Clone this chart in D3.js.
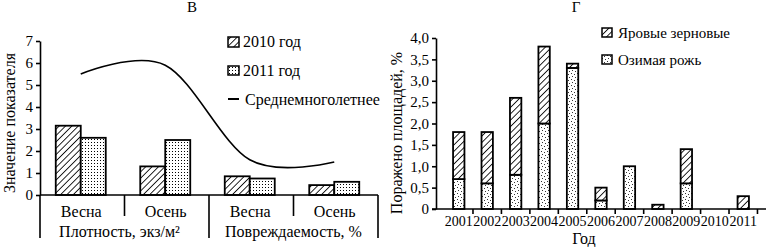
<!DOCTYPE html>
<html>
<head>
<meta charset="utf-8">
<script src="https://cdn.jsdelivr.net/npm/d3@7"></script>
</head>
<body style="margin:0; background:#fff">
<svg id="chart" width="768" height="247"></svg>
<script>
// Chart В: density and damage by season
const seasons = ["Весна", "Осень", "Весна ", "Осень "];
const groups = ["Плотность, экз/м²", "Повреждаемость, %"];
const years2 = ["2010", "2011"];
const values2010 = [3.15, 1.3, 0.85, 0.45];
const values2011 = [2.6, 2.5, 0.75, 0.6];
const longTerm = [5.5, 5.9, 1.6, 1.5];
const leftTicks = [0, 1, 2, 3, 4, 5, 6, 7];

// Chart Г: damaged area by year
const years = ["2001", "2002", "2003", "2004", "2005", "2006", "2007", "2008", "2009", "2010", "2011"];
const rye = [0.7, 0.6, 0.8, 2.0, 3.3, 0.2, 1.0, 0, 0.6, 0, 0];
const springGrain = [1.1, 1.2, 1.8, 1.8, 0.1, 0.3, 0, 0.1, 0.8, 0, 0.3];
const rightTicks = [0, 0.5, 1, 1.5, 2, 2.5, 3, 3.5, 4];

const FONT = "'Liberation Serif', 'Times New Roman', serif";

let svg = d3.select("#chart");

// patterns
let defs = svg.append("defs");
let hatch = defs.append("pattern")
    .attr("id", "hatch")
    .attr("patternUnits", "userSpaceOnUse")
    .attr("width", 4.5).attr("height", 4.5)
    .attr("patternTransform", "rotate(45)");
hatch.append("rect").attr("width", 4.5).attr("height", 4.5).attr("fill", "#fff");
hatch.append("line").attr("x1", 0).attr("y1", 0).attr("x2", 0).attr("y2", 4.5)
    .attr("stroke", "#000").attr("stroke-width", 1.7);

let dots = defs.append("pattern")
    .attr("id", "dots")
    .attr("patternUnits", "userSpaceOnUse")
    .attr("width", 3).attr("height", 3);
dots.append("rect").attr("width", 3).attr("height", 3).attr("fill", "#fff");
dots.append("rect").attr("x", 1).attr("y", 1).attr("width", 1).attr("height", 1).attr("fill", "#000");

let stipple = defs.append("pattern")
    .attr("id", "stipple")
    .attr("patternUnits", "userSpaceOnUse")
    .attr("width", 6).attr("height", 6);
stipple.append("rect").attr("width", 6).attr("height", 6).attr("fill", "#fff");
[[1, 1], [4, 2], [2, 4], [5, 5]].forEach(p => {
    stipple.append("rect").attr("x", p[0]).attr("y", p[1]).attr("width", 1).attr("height", 1).attr("fill", "#333");
});

// ---------- left chart ----------
let xL = d3.scaleBand().domain(seasons).range([40, 378]);
let xInner = d3.scaleBand().domain(years2).range([0, xL.bandwidth()]).paddingOuter(0.69);
let yL = d3.scaleLinear().domain([0, 7]).range([195, 41]);

let left = svg.append("g");
let bars = [values2010, values2011];
bars.forEach((vals, i) => {
    left.selectAll(".b" + i)
        .data(vals)
        .enter()
        .append("rect")
        .attr("x", (d, j) => xL(seasons[j]) + xInner(years2[i]) - 1.5)
        .attr("width", xInner.bandwidth())
        .attr("y", d => yL(d))
        .attr("height", d => yL(0) - yL(d))
        .attr("fill", i == 0 ? "url(#hatch)" : "url(#dots)")
        .attr("stroke", "#000")
        .attr("stroke-width", 1.8);
});

let line = d3.line()
    .x((d, i) => xL(seasons[i]) + xL.bandwidth() / 2 - 1.5)
    .y(d => yL(d))
    .curve(d3.curveCatmullRom.alpha(0));
left.append("path")
    .attr("d", line(longTerm))
    .attr("fill", "none")
    .attr("stroke", "#000")
    .attr("stroke-width", 1.6);

left.append("g")
    .attr("class", "axis")
    .attr("transform", "translate(40,0)")
    .call(d3.axisLeft(yL).tickValues(leftTicks).tickSize(4).tickSizeOuter(0).tickPadding(3)
        .tickFormat(d3.format("d")));

// x axis frame
let frame = left.append("g").attr("class", "axis");
frame.append("line").attr("x1", 40).attr("x2", 378).attr("y1", yL(0)).attr("y2", yL(0));
frame.append("line").attr("x1", 40).attr("x2", 40).attr("y1", yL(0)).attr("y2", 238);
[1, 3].forEach(i => {
    frame.append("line").attr("x1", xL(seasons[i])).attr("x2", xL(seasons[i]))
        .attr("y1", yL(0)).attr("y2", 216);
});
frame.append("line").attr("x1", xL(seasons[2])).attr("x2", xL(seasons[2]))
    .attr("y1", yL(0)).attr("y2", 238);
frame.append("line").attr("x1", 378).attr("x2", 378).attr("y1", yL(0)).attr("y2", 238);

left.selectAll(".season")
    .data(seasons)
    .enter()
    .append("text")
    .attr("class", "big")
    .attr("x", d => xL(d) + xL.bandwidth() / 2 - 1)
    .attr("y", 217)
    .attr("text-anchor", "middle")
    .text(d => d.trim());

groups.forEach((g, i) => {
    let x0 = xL(seasons[i * 2]);
    left.append("text")
        .attr("class", "big")
        .attr("x", x0 + xL.bandwidth() - (i == 0 ? 5 : 0))
        .attr("y", 237)
        .attr("text-anchor", "middle")
        .text(g);
});

left.append("text").attr("x", 192).attr("y", 12).attr("text-anchor", "middle").text("В");
left.append("text")
    .attr("class", "big")
    .attr("transform", "translate(15,123) rotate(-90)")
    .attr("text-anchor", "middle")
    .text("Значение показателя");

// legend
let legL = left.append("g");
legL.append("rect").attr("x", 228).attr("y", 37).attr("width", 11).attr("height", 10)
    .attr("fill", "url(#hatch)").attr("stroke", "#000").attr("stroke-width", 1.5);
legL.append("text").attr("class", "big").attr("x", 243).attr("y", 47).text("2010 год");
legL.append("rect").attr("x", 228).attr("y", 66).attr("width", 11).attr("height", 9)
    .attr("fill", "url(#dots)").attr("stroke", "#000").attr("stroke-width", 1.5);
legL.append("text").attr("class", "big").attr("x", 243).attr("y", 76).text("2011 год");
legL.append("line").attr("x1", 228).attr("x2", 239).attr("y1", 99).attr("y2", 99)
    .attr("stroke", "#000").attr("stroke-width", 2);
legL.append("text").attr("class", "big").attr("x", 245).attr("y", 105).text("Среднемноголетнее");

// ---------- right chart ----------
let xR = d3.scaleBand().domain(years).range([436, 766]).padding(0.6);
let yR = d3.scaleLinear().domain([0, 4]).range([209, 38]);

let table = years.map((y, i) => ({ year: y, rye: rye[i], spring: springGrain[i] }));
let stack = d3.stack().keys(["rye", "spring"])(table);
let fills = { rye: "url(#stipple)", spring: "url(#hatch)" };

let right = svg.append("g");
stack.forEach(layer => {
    right.selectAll(".l-" + layer.key)
        .data(layer.filter(d => d[1] - d[0] > 0))
        .enter()
        .append("rect")
        .attr("x", d => xR(d.data.year))
        .attr("width", xR.bandwidth())
        .attr("y", d => yR(d[1]))
        .attr("height", d => yR(d[0]) - yR(d[1]))
        .attr("fill", fills[layer.key])
        .attr("stroke", "#000")
        .attr("stroke-width", 1.8);
});

right.append("g")
    .attr("class", "axis")
    .attr("transform", "translate(436,0)")
    .call(d3.axisLeft(yR).tickValues(rightTicks).tickSize(4).tickSizeOuter(0).tickPadding(3)
        .tickFormat(d => d == 0 ? "0" : d3.format(".1f")(d).replace(".", ",")));

let xAxisR = right.append("g").attr("class", "axis");
xAxisR.append("line").attr("x1", 432).attr("x2", 766).attr("y1", 209).attr("y2", 209);
years.forEach(y => {
    let bx = xR(y) + xR.bandwidth() / 2 + xR.step() / 2;
    xAxisR.append("line")
        .attr("x1", bx).attr("x2", bx)
        .attr("y1", 209).attr("y2", 214);
});

right.selectAll(".yr")
    .data(years)
    .enter()
    .append("text")
    .attr("class", "yr")
    .attr("x", d => xR(d) + xR.bandwidth() / 2)
    .attr("y", 226)
    .attr("text-anchor", "middle")
    .text(d => d);

right.append("text").attr("class", "big").attr("x", 584).attr("y", 244).attr("text-anchor", "middle").text("Год");
right.append("text").attr("x", 576).attr("y", 12).attr("text-anchor", "middle").text("Г");
right.append("text")
    .attr("class", "big")
    .attr("transform", "translate(402,133) rotate(-90)")
    .attr("text-anchor", "middle")
    .text("Поражено площадей, %");

let legR = right.append("g");
legR.append("rect").attr("x", 602).attr("y", 28).attr("width", 10).attr("height", 9)
    .attr("fill", "url(#hatch)").attr("stroke", "#000").attr("stroke-width", 1.5);
legR.append("text").attr("x", 618).attr("y", 38).text("Яровые зерновые");
legR.append("rect").attr("x", 602).attr("y", 55).attr("width", 10).attr("height", 9)
    .attr("fill", "url(#stipple)").attr("stroke", "#000").attr("stroke-width", 1.5);
legR.append("text").attr("x", 618).attr("y", 65).text("Озимая рожь");

// styling
svg.selectAll("text")
    .style("font-family", FONT)
    .style("font-size", "15px")
    .style("fill", "#000");
svg.selectAll(".big").style("font-size", "16px");
svg.selectAll(".yr").style("font-size", "14px");
svg.selectAll(".axis path, .axis line")
    .style("stroke", "#000")
    .style("stroke-width", "1.6px");
</script>
</body>
</html>
